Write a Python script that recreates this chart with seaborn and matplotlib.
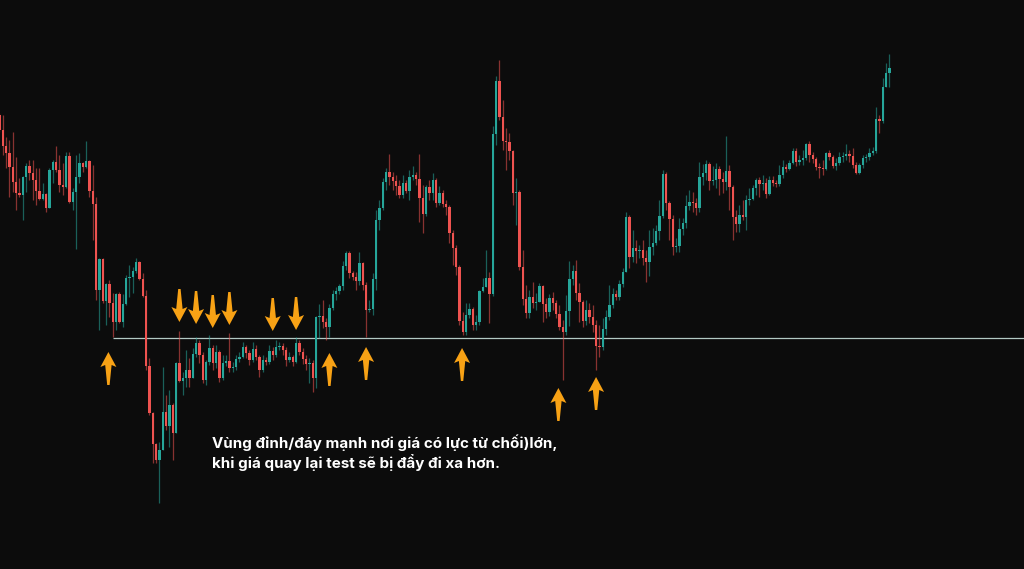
import matplotlib
matplotlib.use("Agg")
import matplotlib.pyplot as plt
import numpy as np
import seaborn as sns

# candle data (price units), one value per candle; open = previous close
first_open = 485
closes = [
    470, 454, 447, 433, 418, 407, 405, 423, 434, 427, 420, 409, 401, 406, 392, 430, 438, 430, 415, 413,
    444, 398, 408, 423, 437, 433, 439, 409, 396, 310, 341, 299, 316, 297, 278, 306, 278, 296, 322, 323,
    329, 338, 321, 304, 234, 187, 156, 140, 150, 188, 174, 195, 167, 237, 219, 222, 230, 222, 246, 257,
    245, 220, 238, 252, 237, 248, 222, 237, 239, 232, 233, 241, 243, 253, 247, 240, 251, 243, 230, 240,
    238, 249, 245, 253, 254, 250, 240, 243, 238, 257, 248, 241, 236, 237, 222, 283, 284, 278, 273, 292,
    306, 309, 314, 334, 347, 327, 323, 319, 337, 315, 290, 291, 321, 380, 392, 418, 428, 423, 419, 414,
    405, 417, 409, 423, 425, 421, 402, 386, 413, 407, 420, 397, 407, 396, 393, 367, 352, 333, 279, 268,
    285, 291, 275, 278, 309, 313, 322, 306, 466, 519, 483, 459, 458, 449, 407, 408, 333, 301, 287, 303,
    297, 298, 314, 296, 288, 302, 297, 286, 273, 268, 289, 321, 329, 307, 298, 279, 290, 283, 275, 254,
    253, 271, 283, 295, 306, 303, 316, 328, 383, 343, 352, 349, 350, 342, 338, 353, 357, 369, 384, 426,
    397, 381, 353, 354, 371, 377, 394, 398, 397, 392, 423, 427, 436, 419, 420, 431, 421, 418, 429, 413,
    383, 376, 385, 383, 400, 401, 412, 420, 416, 417, 406, 420, 417, 416, 425, 433, 431, 437, 449, 438,
    440, 442, 456, 445, 441, 433, 432, 431, 447, 443, 434, 437, 443, 444, 446, 444, 435, 427, 435, 442,
    443, 447, 449, 481, 479, 513, 527, 532,
]
highs = [
    487, 485, 463, 460, 468, 443, 422, 424, 437, 440, 440, 432, 432, 417, 407, 432, 440, 454, 445, 437,
    448, 448, 412, 445, 447, 438, 459, 440, 435, 403, 342, 342, 317, 320, 307, 307, 308, 306, 325, 335,
    333, 342, 339, 327, 310, 242, 188, 157, 158, 233, 205, 210, 197, 238, 269, 228, 250, 242, 252, 263,
    260, 248, 240, 265, 255, 255, 250, 245, 245, 267, 238, 245, 248, 258, 255, 250, 258, 255, 245, 245,
    243, 255, 253, 260, 258, 257, 253, 248, 245, 263, 260, 252, 245, 242, 240, 284, 296, 300, 282, 296,
    310, 313, 316, 339, 349, 349, 329, 328, 348, 338, 318, 300, 327, 390, 400, 422, 432, 446, 428, 425,
    420, 425, 420, 430, 434, 428, 446, 415, 415, 420, 427, 422, 414, 410, 400, 395, 370, 355, 335, 288,
    297, 297, 293, 285, 310, 322, 350, 328, 474, 524, 540, 500, 472, 467, 450, 422, 410, 350, 315, 310,
    318, 307, 317, 315, 302, 306, 308, 300, 295, 280, 305, 339, 335, 340, 317, 300, 300, 297, 295, 280,
    275, 282, 290, 315, 312, 310, 320, 332, 388, 385, 370, 360, 355, 360, 350, 370, 372, 375, 400, 430,
    428, 399, 385, 362, 382, 382, 405, 410, 408, 402, 438, 436, 440, 438, 434, 437, 434, 428, 464, 435,
    415, 390, 395, 400, 405, 412, 415, 422, 423, 425, 422, 424, 424, 420, 435, 440, 436, 440, 452, 452,
    445, 450, 457, 459, 448, 443, 437, 440, 448, 450, 445, 442, 448, 448, 456, 450, 452, 438, 437, 445,
    446, 452, 453, 493, 485, 522, 537, 546,
]
lows = [
    468, 445, 432, 403, 408, 390, 403, 380, 408, 420, 400, 395, 400, 400, 388, 392, 417, 428, 408, 405,
    412, 397, 390, 351, 417, 428, 432, 403, 360, 300, 270, 297, 275, 283, 263, 270, 277, 273, 295, 303,
    307, 327, 320, 303, 230, 185, 137, 137, 97, 150, 170, 153, 140, 167, 218, 205, 213, 213, 222, 243,
    237, 217, 215, 235, 230, 232, 218, 220, 234, 228, 228, 230, 238, 242, 242, 235, 238, 240, 223, 228,
    235, 236, 240, 243, 250, 245, 234, 238, 234, 237, 245, 236, 230, 217, 208, 212, 262, 272, 260, 263,
    290, 300, 306, 310, 330, 322, 320, 310, 315, 310, 263, 288, 285, 310, 370, 390, 410, 415, 410, 405,
    402, 402, 407, 400, 420, 415, 378, 367, 384, 400, 400, 393, 395, 393, 385, 357, 335, 325, 275, 265,
    265, 282, 270, 270, 275, 308, 318, 277, 304, 455, 480, 450, 430, 440, 395, 375, 330, 295, 282, 282,
    292, 290, 300, 278, 282, 284, 290, 282, 270, 220, 265, 274, 315, 300, 278, 273, 275, 277, 268, 230,
    243, 250, 265, 280, 292, 300, 300, 313, 328, 332, 338, 337, 342, 335, 318, 324, 345, 355, 360, 382,
    390, 360, 345, 348, 348, 365, 372, 390, 388, 385, 388, 415, 420, 410, 415, 412, 405, 407, 410, 390,
    360, 368, 368, 380, 370, 395, 400, 405, 403, 410, 402, 405, 414, 413, 414, 422, 428, 430, 436, 434,
    435, 435, 440, 438, 437, 430, 422, 425, 430, 440, 432, 430, 435, 438, 440, 438, 432, 426, 426, 432,
    438, 440, 445, 447, 467, 477, 513, 513,
]

# rejection level and the arrows pointing at it (candle index, arrow tip price)
level = 262
level_start = 34
up_arrow_x = [32.7, 99.0, 110.0, 138.8, 167.7, 179.0]
up_arrow_tip = [248, 247, 253, 252, 212, 223]
down_arrow_x = [54.0, 59.0, 64.0, 69.0, 82.0, 89.0]
down_arrow_tip = [278, 276, 272, 275, 269, 270]

note = "Vùng đỉnh/đáy mạnh nơi giá có lực từ chối)lớn,\nkhi giá quay lại test sẽ bị đẩy đi xa hơn."

BG = "#0c0c0c"
UP = "#26a69a"
DOWN = "#ef5350"
ARROW = "#f8a215"

sns.set_theme(style="dark", rc={"axes.facecolor": BG, "figure.facecolor": BG})
plt.rcParams["font.family"] = ["Inter", "DejaVu Sans"]

closes = np.array(closes, dtype=float)
opens = np.concatenate([[first_open], closes[:-1]])
highs = np.maximum(np.array(highs, dtype=float), np.maximum(opens, closes))
lows = np.minimum(np.array(lows, dtype=float), np.minimum(opens, closes))
idx = np.arange(len(closes))
is_up = closes >= opens
colors = np.where(is_up, UP, DOWN)

fig = plt.figure(figsize=(10.24, 5.69), dpi=100)
ax = fig.add_axes([0, 0, 1, 1])
step = 1024 / 307.2  # pixels per candle

# wicks (dimmer), then bodies
ax.vlines(idx, lows, highs, colors=colors, linewidth=0.9, alpha=0.55, zorder=2)
body_lo = np.minimum(opens, closes)
body_h = np.maximum(np.abs(closes - opens), 1.0)
ax.bar(idx, body_h, bottom=body_lo, width=0.72, color=colors, linewidth=0, zorder=3)

ax.hlines(level, level_start, 400, colors="#b3c9c4", linewidth=0.9, zorder=1)


def arrow(x, tip, direction):
    # tapered arrow shape; horizontal sizes in pixels converted to candle units
    s = direction  # +1 points up, -1 points down
    dx = np.array([0, -8, -3.2, -1.2, 1.2, 3.2, 8]) / step
    dy = np.array([0, 15, 13, 33, 33, 13, 15]) * -s
    ax.fill(x + dx, tip + dy, color=ARROW, linewidth=0, zorder=4)


for x, t in zip(up_arrow_x, up_arrow_tip):
    arrow(x, t, 1)
for x, t in zip(down_arrow_x, down_arrow_tip):
    arrow(x, t, -1)

ax.text(212 / 1024, 1 - 434 / 569, note, transform=ax.transAxes, color="white",
        fontsize=10.9, fontweight="bold", va="top", ha="left", linespacing=1.25)

ax.set_xlim(0.18, 0.18 + 307.2)
ax.set_ylim(31, 600)
ax.axis("off")

fig.savefig("out.png", dpi=100, facecolor=BG)
